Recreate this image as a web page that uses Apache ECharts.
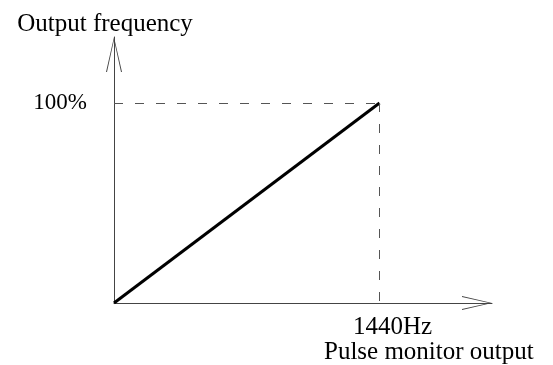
<!DOCTYPE html>
<html>
<head>
<meta charset="utf-8">
<script src="https://cdn.jsdelivr.net/npm/echarts@6/dist/echarts.min.js"></script>
<style>
html,body{margin:0;padding:0;background:#fff;}
#chart{width:553px;height:365px;}
</style>
</head>
<body>
<div id="chart"></div>
<script>
// Data
const xName = 'Pulse monitor output';
const yName = 'Output frequency';
const xValues = [0, 1440];          // Hz
const yValues = [0, 100];           // %
const xTickLabels = { 1440: '1440Hz' };
const yTickLabels = { 100: '100%' };
const refPoint = [1440, 100];

const FONT = 'Liberation Serif';
const seriesData = xValues.map((x, i) => [x, yValues[i]]);

const chart = echarts.init(document.getElementById('chart'), null, { renderer: 'canvas' });
chart.setOption({
  animation: false,
  backgroundColor: '#fff',
  grid: { left: 114, top: 37, right: 61, bottom: 62, containLabel: false, outerBoundsMode: 'none' },
  xAxis: {
    type: 'value', min: 0, max: 2050, interval: 1440,
    name: xName, nameLocation: 'end', nameGap: -168,
    nameTextStyle: { fontFamily: FONT, fontSize: 25, color: '#000', verticalAlign: 'top', padding: [37, 0, 0, 0] },
    axisLine: {
      lineStyle: { color: '#444', width: 1 },
      symbol: ['none', 'path://M7,0 L0,30 L1,30 L7,3 L13,30 L14,30 Z'],
      symbolSize: [14, 30], symbolOffset: [0, -15]
    },
    axisTick: { show: false },
    splitLine: { show: false },
    axisLabel: {
      showMinLabel: false, showMaxLabel: false, margin: 12,
      fontFamily: FONT, fontSize: 25, color: '#000', padding: [0, 0, 0, 26],
      formatter: v => xTickLabels[v] || ''
    }
  },
  yAxis: {
    type: 'value', min: 0, max: 133, interval: 100,
    name: yName, nameLocation: 'end', nameGap: 13,
    nameTextStyle: { fontFamily: FONT, fontSize: 25, color: '#000', align: 'center', verticalAlign: 'middle', padding: [0, 18, 0, 0] },
    axisLine: {
      lineStyle: { color: '#444', width: 1 },
      symbol: ['none', 'path://M8,0 L0,35 L1,35 L8,3 L15,35 L16,35 Z'],
      symbolSize: [16, 35], symbolOffset: [0, -17.5]
    },
    axisTick: { show: false },
    splitLine: { show: false },
    axisLabel: {
      showMinLabel: false, showMaxLabel: false, margin: 27,
      fontFamily: FONT, fontSize: 23, color: '#000', padding: [0, 0, 8, 0],
      formatter: v => yTickLabels[v] || ''
    }
  },
  series: [{
    type: 'line',
    data: seriesData,
    symbol: 'none',
    lineStyle: { color: '#000', width: 3 },
    markLine: {
      silent: true,
      symbol: ['none', 'none'],
      label: { show: false },
      lineStyle: { color: '#555', width: 1, type: [9, 12] },
      data: [
        [{ coord: [0, refPoint[1]] }, { coord: [refPoint[0], refPoint[1]] }],
        [{ coord: [refPoint[0], refPoint[1]] }, { coord: [refPoint[0], 0] }]
      ]
    }
  }]
});
</script>
</body>
</html>
